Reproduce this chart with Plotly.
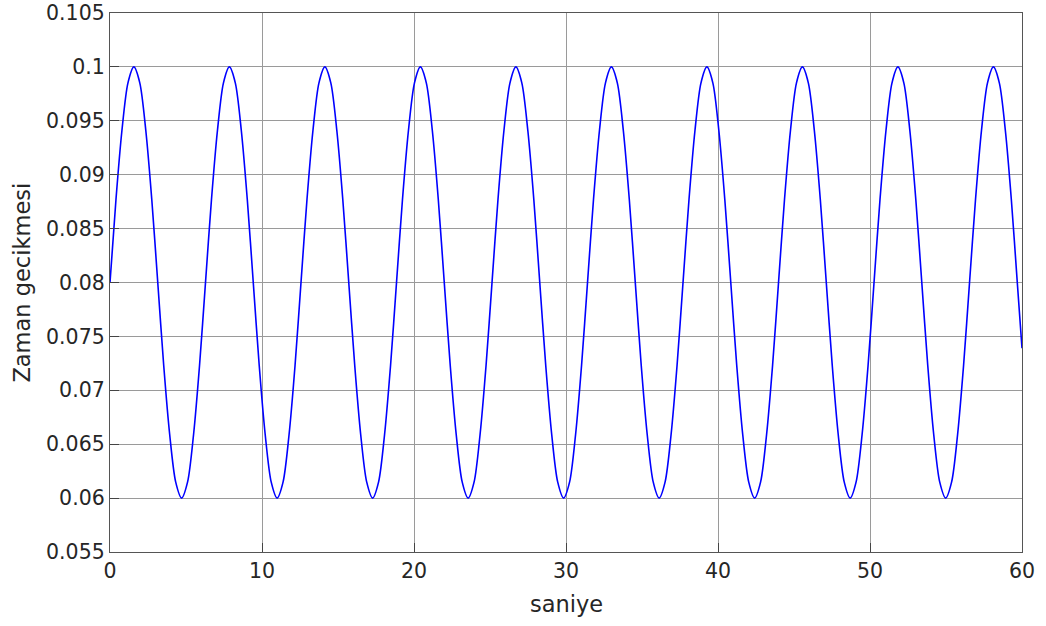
import plotly.graph_objects as go

t = [0, 0.393, 0.785, 1.178, 1.571, 1.963, 2.356, 2.749, 3.142, 3.534, 3.927, 4.32, 4.712, 5.105, 5.498, 5.89,
     6.283, 6.676, 7.069, 7.461, 7.854, 8.247, 8.639, 9.032, 9.425, 9.817, 10.21, 10.603, 10.996, 11.388, 11.781, 12.174,
     12.566, 12.959, 13.352, 13.744, 14.137, 14.53, 14.923, 15.315, 15.708, 16.101, 16.493, 16.886, 17.279, 17.671, 18.064, 18.457,
     18.85, 19.242, 19.635, 20.028, 20.42, 20.813, 21.206, 21.598, 21.991, 22.384, 22.777, 23.169, 23.562, 23.955, 24.347, 24.74,
     25.133, 25.525, 25.918, 26.311, 26.704, 27.096, 27.489, 27.882, 28.274, 28.667, 29.06, 29.452, 29.845, 30.238, 30.631, 31.023,
     31.416, 31.809, 32.201, 32.594, 32.987, 33.379, 33.772, 34.165, 34.558, 34.95, 35.343, 35.736, 36.128, 36.521, 36.914, 37.306,
     37.699, 38.092, 38.485, 38.877, 39.27, 39.663, 40.055, 40.448, 40.841, 41.233, 41.626, 42.019, 42.412, 42.804, 43.197, 43.59,
     43.982, 44.375, 44.768, 45.16, 45.553, 45.946, 46.338, 46.731, 47.124, 47.517, 47.909, 48.302, 48.695, 49.087, 49.48, 49.873,
     50.265, 50.658, 51.051, 51.444, 51.836, 52.229, 52.622, 53.014, 53.407, 53.8, 54.192, 54.585, 54.978, 55.371, 55.763, 56.156,
     56.549, 56.942, 57.334, 57.727, 58.119, 58.512, 58.905, 59.298, 59.69, 60.0]
delay = [0.08, 0.0877, 0.0941, 0.0985, 0.1, 0.0985, 0.0941, 0.0877, 0.08, 0.0723, 0.0659, 0.0615, 0.06, 0.0615, 0.0659, 0.0723,
         0.08, 0.0877, 0.0941, 0.0985, 0.1, 0.0985, 0.0941, 0.0877, 0.08, 0.0723, 0.0659, 0.0615, 0.06, 0.0615, 0.0659, 0.0723,
         0.08, 0.0877, 0.0941, 0.0985, 0.1, 0.0985, 0.0941, 0.0877, 0.08, 0.0723, 0.0659, 0.0615, 0.06, 0.0615, 0.0659, 0.0723,
         0.08, 0.0877, 0.0941, 0.0985, 0.1, 0.0985, 0.0941, 0.0877, 0.08, 0.0723, 0.0659, 0.0615, 0.06, 0.0615, 0.0659, 0.0723,
         0.08, 0.0877, 0.0941, 0.0985, 0.1, 0.0985, 0.0941, 0.0877, 0.08, 0.0723, 0.0659, 0.0615, 0.06, 0.0615, 0.0659, 0.0723,
         0.08, 0.0877, 0.0941, 0.0985, 0.1, 0.0985, 0.0941, 0.0877, 0.08, 0.0723, 0.0659, 0.0615, 0.06, 0.0615, 0.0659, 0.0723,
         0.08, 0.0877, 0.0941, 0.0985, 0.1, 0.0985, 0.0941, 0.0877, 0.08, 0.0723, 0.0659, 0.0615, 0.06, 0.0615, 0.0659, 0.0723,
         0.08, 0.0877, 0.0941, 0.0985, 0.1, 0.0985, 0.0941, 0.0877, 0.08, 0.0723, 0.0659, 0.0615, 0.06, 0.0615, 0.0659, 0.0723,
         0.08, 0.0877, 0.0941, 0.0985, 0.1, 0.0985, 0.0941, 0.0877, 0.08, 0.0723, 0.0659, 0.0615, 0.06, 0.0615, 0.0659, 0.0723,
         0.08, 0.0877, 0.0941, 0.0985, 0.1, 0.0985, 0.0941, 0.0877, 0.08, 0.0739]

x_ticks = [0, 10, 20, 30, 40, 50, 60]
y_ticks = [0.055, 0.06, 0.065, 0.07, 0.075, 0.08, 0.085, 0.09, 0.095, 0.1, 0.105]
y_labels = ["0.055", "0.06", "0.065", "0.07", "0.075", "0.08", "0.085", "0.09", "0.095", "0.1", "0.105"]
x_title = "saniye"
y_title = "Zaman gecikmesi"

fig = go.Figure()
fig.add_trace(go.Scatter(x=t, y=delay, mode="lines",
                         line=dict(color="#0000ff", width=1.6, shape="spline", smoothing=0.8),
                         showlegend=False))

font = dict(family="DejaVu Sans", size=20.5, color="#262626")
title_font = dict(family="DejaVu Sans", size=22.5, color="#262626")
axis_common = dict(showline=True, linecolor="#555555", linewidth=1.3, mirror=True,
                   showgrid=True, gridcolor="#9a9a9a", gridwidth=1,
                   ticks="inside", ticklen=9, tickcolor="#444444", tickwidth=1,
                   zeroline=False, tickfont=font, automargin=False)

fig.update_layout(
    width=1046, height=626,
    margin=dict(l=110, r=24, t=13, b=74),
    plot_bgcolor="white", paper_bgcolor="white",
    font=font,
    xaxis=dict(range=[0, 60], tickvals=x_ticks, ticktext=[str(v) for v in x_ticks], **axis_common),
    yaxis=dict(range=[0.055, 0.105], tickvals=y_ticks, ticktext=y_labels, **axis_common),
)
fig.add_annotation(text=x_title, xref="paper", yref="paper", x=0.5, y=-0.0965,
                   xanchor="center", yanchor="middle", showarrow=False, font=title_font)
fig.add_annotation(text=y_title, xref="paper", yref="paper", x=-0.0975, y=0.5,
                   xanchor="center", yanchor="middle", textangle=-90, showarrow=False, font=title_font)

fig.write_html("out.html")
